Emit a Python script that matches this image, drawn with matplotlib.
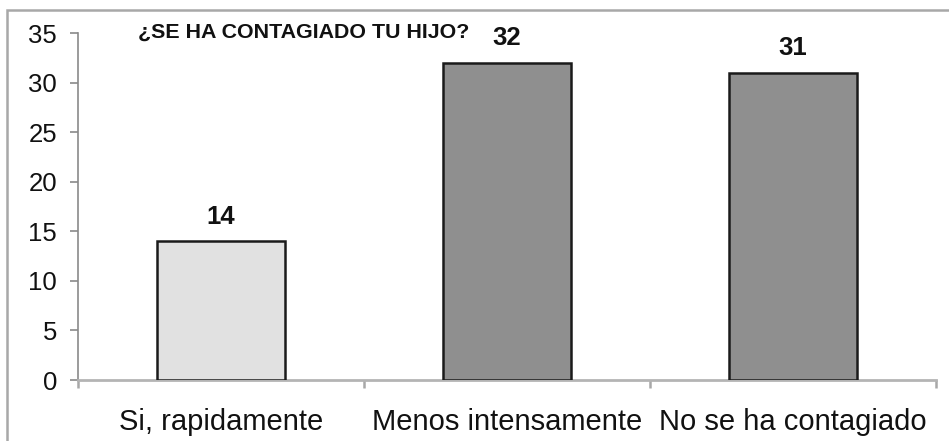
import matplotlib.pyplot as plt
import matplotlib.patches as mpatches

plt.rcParams["font.family"] = ["Liberation Sans", "DejaVu Sans"]

# Survey answers and counts
categories = ["Si, rapidamente", "Menos intensamente", "No se ha contagiado"]
counts = [14, 32, 31]
bar_colors = ["#e1e1e1", "#8f8f8f", "#8f8f8f"]
title = "¿SE HA CONTAGIADO TU HIJO?"
yticks = [0, 5, 10, 15, 20, 25, 30, 35]

W, H = 949, 441
fig = plt.figure(figsize=(W / 100, H / 100), dpi=100)
ax = fig.add_axes([78 / W, 1 - 380 / H, (936 - 78) / W, (380 - 33) / H])

x = list(range(len(categories)))
ax.bar(x, counts, width=0.445, color=bar_colors, edgecolor="#1a1a1a",
       linewidth=1.8, zorder=3)

for xi, v in zip(x, counts):
    ax.annotate(str(v), (xi, v), xytext=(0, 9), textcoords="offset points",
                ha="center", va="bottom", fontsize=18.5, fontweight="bold",
                color="#111111")

ax.set_xlim(-0.5, len(categories) - 0.5)
ax.set_ylim(0, 35)
ax.set_yticks(yticks)
ax.set_yticklabels([str(t) for t in yticks], fontsize=18.5, color="#111111")
ax.set_xticks(x)
ax.set_xticklabels(categories, fontsize=21, color="#111111")
ax.tick_params(axis="x", length=0, pad=20)
ax.tick_params(axis="y", length=6, width=1.2, color="#8a8a8a", pad=9)

# category boundary ticks below the x axis
ax.set_xticks([i - 0.5 for i in range(len(categories) + 1)], minor=True)
ax.tick_params(axis="x", which="minor", length=6, width=1.8, color="#a8a8a8")

for side in ("top", "right"):
    ax.spines[side].set_visible(False)
ax.spines["left"].set_color("#8a8a8a")
ax.spines["left"].set_linewidth(1.2)
ax.spines["bottom"].set_color("#b4b4b4")
ax.spines["bottom"].set_linewidth(2)

fig.text(138 / W, 1 - 32 / H, title, fontsize=15.4, fontweight="bold",
         ha="left", va="center", color="#111111")

# outer chart frame
frame = mpatches.Rectangle((7 / W, -0.05), 1.1, 1 - 10 / H + 0.05,
                           transform=fig.transFigure, fill=False,
                           edgecolor="#a8a8a8", linewidth=1.8, clip_on=False)
fig.patches.append(frame)

fig.savefig("out.png", dpi=100)
